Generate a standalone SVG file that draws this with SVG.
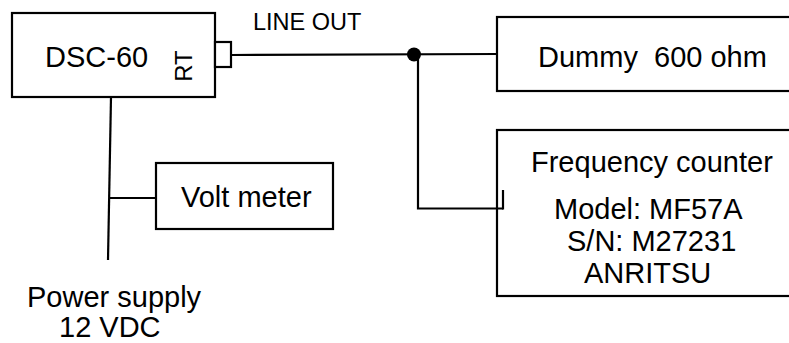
<svg xmlns="http://www.w3.org/2000/svg" width="789" height="343" viewBox="0 0 789 343">
<style>
.box{fill:#fff;stroke:#000;stroke-width:2.2}
.ln{fill:none;stroke:#000;stroke-width:2.2}
text{font-family:"Liberation Sans",Arial,sans-serif;fill:#000}
.t{font-size:29px}
</style>
<rect width="789" height="343" fill="#fff"/>
<g id="dsc60">
<rect class="box" x="12" y="13" width="203" height="84"/>
<rect class="box" x="215" y="42" width="16" height="25"/>
<text class="t" x="45" y="67">DSC-60</text>
<text x="0" y="0" font-size="24" text-anchor="middle" transform="translate(191.5,66) rotate(-90)">RT</text>
</g>
<g id="lineout">
<text x="253" y="30" font-size="23.5">LINE OUT</text>
</g>
<g id="dummy">
<rect class="box" x="497" y="17" width="300" height="74"/>
<text class="t" x="538" y="67" xml:space="preserve">Dummy  600 ohm</text>
</g>
<g id="counter">
<rect class="box" x="497" y="130" width="300" height="166"/>
<text class="t" x="531" y="172">Frequency counter</text>
<text class="t" x="554" y="219">Model: MF57A</text>
<text class="t" x="567" y="251">S/N: M27231</text>
<text class="t" x="584" y="283">ANRITSU</text>
</g>
<g id="voltmeter">
<rect class="box" x="156" y="163" width="177" height="66"/>
<text class="t" x="181" y="207">Volt meter</text>
</g>
<g id="power">
<text class="t" x="27" y="307">Power supply</text>
<text class="t" x="59" y="337">12 VDC</text>
</g>
<g id="connectors">
<line class="ln" x1="231" y1="55" x2="498" y2="54"/>
<polyline class="ln" points="418,54 418,208.5 503,208.5"/>
<line class="ln" x1="503" y1="190" x2="503" y2="209.5"/>
<line class="ln" x1="111" y1="97" x2="108" y2="260"/>
<line class="ln" x1="109.5" y1="198" x2="156" y2="198"/>
<circle cx="414" cy="54.5" r="7" fill="#000"/>
</g>
</svg>
